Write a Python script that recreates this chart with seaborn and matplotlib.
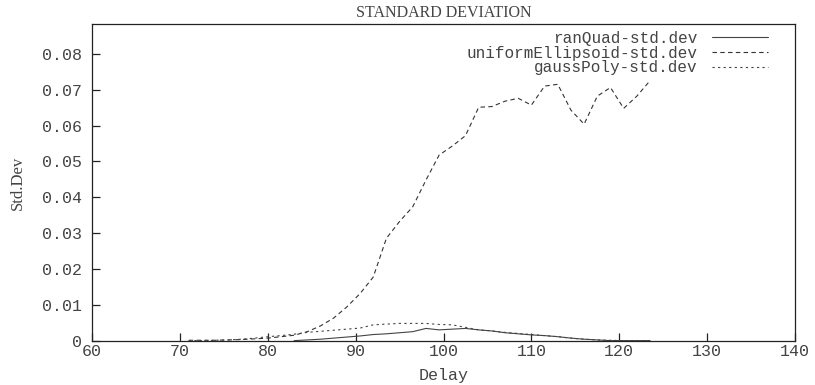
import matplotlib
matplotlib.use("Agg")
import matplotlib.pyplot as plt
import numpy as np
import pandas as pd
import seaborn as sns

# Delay values at which the standard deviation was sampled
delay = [71.0, 72.5, 74.0, 75.5, 77.0, 78.5, 80.0, 81.5, 83.0, 84.5, 86.0, 87.5,
         89.0, 90.5, 92.0, 93.5, 95.0, 96.5, 98.0, 99.5, 101.0, 102.5, 104.0, 105.5,
         107.0, 108.5, 110.0, 111.5, 113.0, 114.5, 116.0, 117.5, 119.0, 120.5, 122.0, 123.5]

ran_quad = [np.nan, np.nan, np.nan, np.nan, np.nan, np.nan, np.nan, np.nan, 0.0001, 0.0003, 0.0005, 0.0008,
            0.0011, 0.0014, 0.0018, 0.0020, 0.0023, 0.0026, 0.0035, 0.0031, 0.0033, 0.0035, 0.0031, 0.0028,
            0.0023, 0.0020, 0.0017, 0.0015, 0.0012, 0.0008, 0.0005, 0.0003, 0.0001, 0.0001, 0.0001, 0.0001]

uniform_ellipsoid = [0.0002, 0.0002, 0.0002, 0.0003, 0.0004, 0.0006, 0.0008, 0.0012, 0.0016, 0.0026, 0.0042, 0.0064,
                     0.0095, 0.0132, 0.0178, 0.0286, 0.0333, 0.0374, 0.0448, 0.0518, 0.0543, 0.0572, 0.0651, 0.0653,
                     0.0668, 0.0676, 0.0657, 0.0710, 0.0715, 0.0643, 0.0604, 0.0682, 0.0706, 0.0648, 0.0682, 0.0725]

gauss_poly = [0.0001, 0.0001, 0.0002, 0.0003, 0.0005, 0.0008, 0.0012, 0.0015, 0.0019, 0.0024, 0.0027, 0.0030,
              0.0033, 0.0036, 0.0045, 0.0047, 0.0049, 0.0049, 0.0049, 0.0046, 0.0045, 0.0038, 0.0031, 0.0028,
              0.0024, 0.0021, 0.0018, 0.0015, 0.0012, 0.0008, 0.0005, 0.0003, 0.0002, 0.0001, 0.0001, 0.0001]

series_names = ["ranQuad-std.dev", "uniformEllipsoid-std.dev", "gaussPoly-std.dev"]
x_ticks = [60, 70, 80, 90, 100, 110, 120, 130, 140]
y_ticks = [0, 0.01, 0.02, 0.03, 0.04, 0.05, 0.06, 0.07, 0.08]
y_tick_labels = ["0", "0.01", "0.02", "0.03", "0.04", "0.05", "0.06", "0.07", "0.08"]

sns.set_theme(style="white")
plt.rcParams["font.family"] = ["Liberation Mono", "DejaVu Sans Mono"]

df = pd.DataFrame({
    "Delay": delay,
    series_names[0]: ran_quad,
    series_names[1]: uniform_ellipsoid,
    series_names[2]: gauss_poly,
})

fig = plt.figure(figsize=(8.15, 3.85), dpi=100)
ax = fig.add_axes([0.1129, 0.1143, 0.8626, 0.8234])

styles = {
    series_names[0]: dict(color="#444444", linestyle="-"),
    series_names[1]: dict(color="#333333", linestyle=(0, (4, 3))),
    series_names[2]: dict(color="#444444", linestyle=(0, (2, 3))),
}
for name in series_names:
    sns.lineplot(data=df, x="Delay", y=name, ax=ax, label=name,
                 linewidth=0.8, **styles[name])

ax.set_xlim(60, 140)
ax.set_ylim(0, 0.0883)
ax.set_xticks(x_ticks)
ax.set_xticklabels([str(t) for t in x_ticks])
ax.set_yticks(y_ticks)
ax.set_yticklabels(y_tick_labels)

text_color = "#444444"
ax.tick_params(axis="both", direction="in", length=5.5, width=0.9, color="#222222",
               labelsize=12, labelcolor=text_color)
ax.tick_params(axis="x", pad=2.5)
ax.tick_params(axis="y", pad=7)
ax.tick_params(bottom=True, left=True, top=False, right=False)

for side in ["left", "right", "top", "bottom"]:
    ax.spines[side].set_visible(True)
    ax.spines[side].set_color("#222222")
    ax.spines[side].set_linewidth(0.9)

ax.set_xlabel("Delay", fontsize=12, color=text_color, labelpad=6)
ax.set_ylabel("Std.Dev", fontsize=12, color=text_color, labelpad=12,
              family=["Liberation Serif", "DejaVu Serif"])
ax.set_title("STANDARD DEVIATION", fontsize=11.5, color=text_color, pad=5,
             family=["Liberation Serif", "DejaVu Serif"])

leg = ax.legend(loc="upper right", bbox_to_anchor=(0.9616, 0.978), frameon=False,
                markerfirst=False, fontsize=11.5, handlelength=3.5, handletextpad=0.9,
                labelspacing=-0.02, borderpad=0, borderaxespad=0)
for t in leg.get_texts():
    t.set_color(text_color)

fig.savefig("out.png", dpi=100)
